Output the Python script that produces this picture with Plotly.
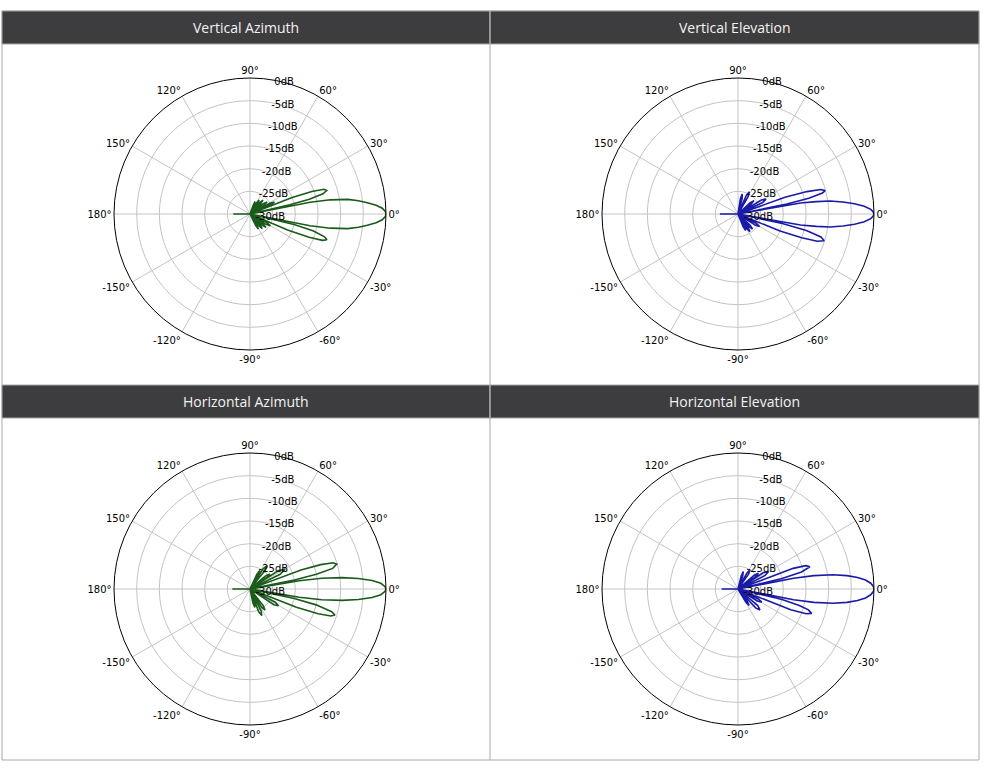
import plotly.graph_objects as go

# panel titles and axis ticks
titles = ["Vertical Azimuth", "Vertical Elevation", "Horizontal Azimuth", "Horizontal Elevation"]
angle_vals = [0, 30, 60, 90, 120, 150, 180, 210, 240, 270, 300, 330]
angle_text = ["0°", "30°", "60°", "90°", "120°", "150°", "180°",
              "-150°", "-120°", "-90°", "-60°", "-30°"]
db_vals = [-30, -25, -20, -15, -10, -5, 0]
db_text = ["-30dB", "-25dB", "-20dB", "-15dB", "-10dB", "-5dB", "0dB"]

# Vertical Azimuth (green)
va_theta = [-180, -177,
            -64, -61, -58, -55, -53, -50, -47, -44.5, -43, -40, -37, -35, -33, -30, -27, -25.5,
            -23, -21.5, -20, -18.5, -17, -15, -13.5, -12,
            -11, -10, -8.5, -7, -5.5, -4, -2.5, -1, 0, 1, 2.5, 4, 5.5, 7, 8.5, 10, 11,
            12, 13, 14, 15.5, 17, 18.5, 20, 21.5, 23,
            24, 26, 28, 30, 32, 35, 38, 40, 44, 47, 50, 52, 54, 57, 60, 62, 66, 68, 70, 72,
            177, 180]
va_db = [-26.3, -30,
         -27.2, -26.2, -27.2, -30, -26.8, -25.8, -26.8, -30, -26.4, -25.4, -26.4, -30, -25.8, -24.8, -25.8, -30,
         -21, -16, -13, -12.1, -12.8, -15.5, -20, -30,
         -16.5, -12, -8.2, -5.9, -4.0, -2.1, -0.8, -0.1, 0, -0.1, -0.8, -2.1, -4.0, -5.9, -8.2, -12, -16.5,
         -30, -21, -16.5, -13.3, -12.3, -12.8, -15.5, -20, -30,
         -25, -24, -25, -30, -26.4, -25.4, -26.4, -30, -26.8, -25.8, -26.8, -30, -27.3, -26.3, -27.3, -30, -28, -27, -28, -30,
         -30, -26.3]

# Vertical Elevation (blue)
ve_theta = [-180, -177,
            -68, -65, -62, -60, -59, -56, -53, -50, -49, -46, -43, -40, -33, -30, -27, -25,
            -22, -20.5, -19, -17.2, -15.5, -13.5, -12, -11,
            -10, -9, -8, -6.5, -5, -3.5, -2, -1, 0, 1, 2, 3.5, 5, 6.5, 8, 9, 10,
            10.5, 11.5, 12.5, 14, 15, 16.5, 18, 19.5, 21,
            25, 28, 31, 33, 37, 40, 43, 46, 60, 63, 66, 70, 75, 78, 81, 84,
            177, 180]
ve_db = [-26, -30,
         -27, -26, -27, -30, -26.3, -25.3, -26.3, -30, -26.4, -25.4, -26.4, -30, -25.5, -24.5, -25.5, -30,
         -20, -15, -11.5, -10.1, -11, -14.5, -20, -30,
         -16, -12.5, -9.5, -6.7, -4.2, -2.1, -0.7, -0.2, 0, -0.2, -0.7, -2.1, -4.2, -6.7, -9.5, -12.5, -16,
         -30, -19, -14, -10.8, -10.1, -11, -14, -19, -30,
         -24, -23, -24, -30, -26.4, -25.4, -26.4, -30, -25.5, -24.5, -25.5, -30, -26.5, -25.5, -26.5, -30,
         -30, -26]

# Horizontal Azimuth (green)
ha_theta = [-180, -177,
            -78, -75, -72, -70, -69, -66, -63, -60, -57.5, -54.5, -51.5, -48, -33.5, -30.5, -27.5, -25,
            -21.5, -20, -18.5, -17, -15.5, -13.5, -12, -11,
            -9.5, -8.5, -7, -5.5, -4, -2.5, -1, 0, 1, 2.5, 4, 5.5, 7, 8.5, 9.5,
            10.5, 11.5, 12.5, 14, 16, 17.5, 19, 20.5, 22,
            26, 29.5, 33, 34, 34.5, 37, 40, 42, 51, 54, 57, 58.5, 59, 62, 65, 67,
            177, 180]
ha_db = [-26.1, -30,
         -26.8, -25.8, -26.8, -30, -24.6, -23.6, -24.6, -30, -25.3, -24.3, -25.3, -30, -23.7, -22.7, -23.7, -30,
         -19, -14, -11.2, -10.4, -11.3, -15, -20, -30,
         -19, -14, -9.5, -6.0, -3.0, -1.1, -0.2, 0, -0.2, -1.1, -3.0, -6.0, -9.5, -14, -19,
         -30, -20, -15, -11.2, -10.1, -10.8, -13.5, -18, -30,
         -22.6, -21.1, -22.6, -30, -25.5, -24.5, -25.5, -30, -24.7, -23.7, -24.7, -30, -26.4, -25.4, -26.4, -30,
         -30, -26.1]

# Horizontal Elevation (blue)
he_theta = [-180, -177,
            -59, -56, -53, -50, -47, -43.7, -40, -36, -32, -29, -26, -24,
            -21.5, -20, -18.3, -16.5, -15, -13.5, -12,
            -11, -10, -8.5, -7, -5.5, -4, -2.5, -1, 0, 1, 2.5, 4, 5.5, 7, 8.5, 10, 11,
            12, 13.5, 15, 17.2, 19, 20.5, 22,
            26.5, 29.7, 33, 34.5, 35, 37.7, 40.5, 43, 54.5, 57.7, 61, 64, 70, 73, 76, 78,
            177, 180]
he_db = [-26.4, -30,
         -26.6, -25.6, -26.6, -30, -24.3, -23.3, -24.3, -30, -25, -24, -25, -30,
         -17.5, -14, -12.9, -13.8, -16, -20, -30,
         -17.5, -13, -8.8, -5.8, -3.5, -1.8, -0.7, -0.1, 0, -0.1, -0.7, -1.8, -3.5, -5.8, -8.8, -13, -17.5,
         -30, -20, -15.5, -13.4, -14.2, -17, -30,
         -23.3, -22.3, -23.3, -30, -25.3, -24.3, -25.3, -30, -26, -25, -26, -30, -27, -26, -27, -30,
         -30, -26.4]

green = "#1a5a1a"
blue = "#1a1aa8"

series = [(va_theta, va_db, green), (ve_theta, ve_db, blue),
          (ha_theta, ha_db, green), (he_theta, he_db, blue)]

W, H = 984, 768
# circle boxes in pixels: (left, top) with size 272
boxes = [(114, 78), (602, 78), (114, 453), (602, 453)]
size = 272

fig = go.Figure()
for i, (th, r, col) in enumerate(series):
    name = "polar" if i == 0 else f"polar{i + 1}"
    fig.add_trace(go.Scatterpolar(
        theta=th, r=r, mode="lines", subplot=name,
        line=dict(color=col, width=1.6), showlegend=False, hoverinfo="skip"
    ))
    x0, y0 = boxes[i]
    fig.layout[name] = dict(
        domain=dict(x=[x0 / W, (x0 + size) / W], y=[1 - (y0 + size) / H, 1 - y0 / H]),
        bgcolor="white",
        angularaxis=dict(
            direction="counterclockwise", rotation=0,
            tickmode="array", tickvals=angle_vals, ticktext=angle_text,
            showline=True, linecolor="black", linewidth=1,
            gridcolor="#c4c4c4", gridwidth=0.8, ticks="",
            tickfont=dict(family="DejaVu Sans", size=10, color="black"),
        ),
        radialaxis=dict(
            range=[-30, 0], tickmode="array", tickvals=db_vals, ticktext=db_text,
            angle=82, side="clockwise", tickangle=82, showline=False,
            linecolor="rgba(0,0,0,0)", ticks="",
            gridcolor="#c4c4c4", gridwidth=0.8,
            tickfont=dict(family="DejaVu Sans", size=10, color="black"),
        ),
    )

# header bars and frame
shapes = []
annotations = []
col_x = [(2, 490), (490, 979)]
row_y = [(11, 44), (385, 418)]
for ri, (ht, hb) in enumerate(row_y):
    for ci, (xl, xr) in enumerate(col_x):
        shapes.append(dict(type="rect", xref="paper", yref="paper",
                           x0=xl / W, x1=xr / W, y0=1 - hb / H, y1=1 - ht / H,
                           fillcolor="#3d3d3f", line=dict(color="#a8a8a8", width=1)))
        annotations.append(dict(text=titles[ri * 2 + ci], xref="paper", yref="paper",
                                x=(xl + xr) / 2 / W, y=1 - (ht + hb) / 2 / H,
                                showarrow=False, xanchor="center", yanchor="middle",
                                font=dict(family="Open Sans", size=14, color="#f2f2f2")))
shapes.append(dict(type="rect", xref="paper", yref="paper",
                   x0=2 / W, x1=979 / W, y0=1 - 760 / H, y1=1 - 11 / H,
                   line=dict(color="#a8a8a8", width=1), layer="below"))
shapes.append(dict(type="line", xref="paper", yref="paper",
                   x0=490 / W, x1=490 / W, y0=1 - 760 / H, y1=1 - 11 / H,
                   line=dict(color="#a8a8a8", width=1)))

fig.update_layout(
    width=W, height=H,
    margin=dict(l=0, r=0, t=0, b=0),
    paper_bgcolor="white",
    shapes=shapes,
    annotations=annotations,
    showlegend=False,
)

# page body has an 8px default margin; drop it so the chart fills the window
fig.write_html("out.html", config={"displayModeBar": False},
               post_script="document.body.style.margin='0';")
